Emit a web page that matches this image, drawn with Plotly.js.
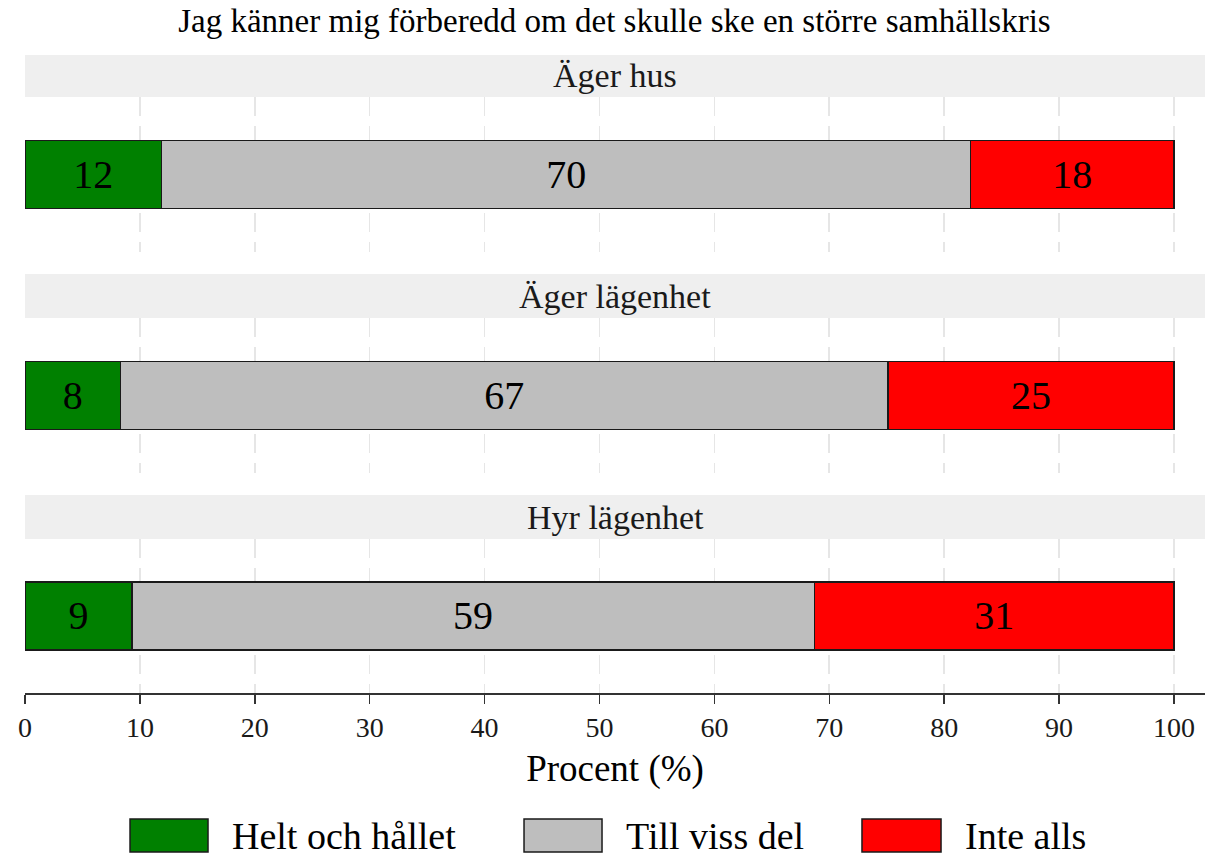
<!DOCTYPE html>
<html>
<head>
<meta charset="utf-8">
<script src="https://cdn.plot.ly/plotly-3.0.1.min.js"></script>
<style>html,body{margin:0;padding:0;background:#fff;}#chart{width:1206px;height:856px;}</style>
</head>
<body>
<div id="chart"></div>
<script>
// ---- data ----
const categories = ['Äger hus', 'Äger lägenhet', 'Hyr lägenhet'];
const seriesNames = ['Helt och hållet', 'Till viss del', 'Inte alls'];
const heltOchHallet = [11.9, 8.3, 9.3];
const tillVissDel = [70.4, 66.8, 59.4];
const inteAlls = [17.7, 24.9, 31.3];
const xTicks = [0, 10, 20, 30, 40, 50, 60, 70, 80, 90, 100];
const chartTitle = 'Jag känner mig förberedd om det skulle ske en större samhällskris';
const xTitle = 'Procent (%)';

// ---- styling ----
const FONT = 'Liberation Serif, Times New Roman, serif';
const colors = ['#008000', '#bebebe', '#ff0000'];
const seriesValues = [heltOchHallet, tillVissDel, inteAlls];

// panel layout (paper coords)
const panelDomains = [[0.6912, 0.9342], [0.3448, 0.5878], [0.0, 0.2414]];
const stripDomains = [[0.9342, 1.0], [0.5878, 0.6567], [0.2414, 0.3103]];
const yAxisIds = ['y', 'y2', 'y3'];
const xAxisIds = ['x3', 'x2', 'x'];

const traces = [];
categories.forEach((cat, ci) => {
  seriesNames.forEach((s, si) => {
    const v = seriesValues[si][ci];
    traces.push({
      type: 'bar',
      orientation: 'h',
      x: [v],
      y: [0],
      width: 0.5,
      name: s,
      xaxis: xAxisIds[ci],
      yaxis: yAxisIds[ci],
      marker: {color: colors[si], line: {color: '#1a1a1a', width: 1.5}},
      text: [String(Math.round(v))],
      textposition: 'inside',
      insidetextanchor: 'middle',
      constraintext: 'none',
      textfont: {family: FONT, size: 40, color: '#000'},
      showlegend: false,
      hoverinfo: 'skip'
    });
  });
});

const gridStyle = {
  showgrid: true, gridcolor: '#e6e6e6', gridwidth: 1.6, griddash: '19px,10px',
  zeroline: false, range: [0, 102.7], tickvals: xTicks, fixedrange: true
};
const yStyle = {range: [-0.57, 0.57], showgrid: false, zeroline: false, showticklabels: false, showline: false, ticks: '', fixedrange: true};

const shapes = [];
const annotations = [];
stripDomains.forEach((d, i) => {
  shapes.push({type: 'rect', xref: 'paper', yref: 'paper', x0: 0, x1: 1, y0: d[0], y1: d[1],
    fillcolor: '#efefef', line: {width: 0}, layer: 'below'});
  annotations.push({xref: 'paper', yref: 'paper', x: 0.5, y: (d[0] + d[1]) / 2,
    text: categories[i], showarrow: false, xanchor: 'center', yanchor: 'middle',
    font: {family: FONT, size: 34, color: '#1a1a1a'}});
});

// custom legend (large swatches)
const legSwatchX = [[0.0890, 0.1551], [0.4229, 0.4890], [0.7093, 0.7763]];
const legTextX = [0.1737, 0.5076, 0.7949];
seriesNames.forEach((s, i) => {
  shapes.push({type: 'rect', xref: 'paper', yref: 'paper', x0: legSwatchX[i][0], x1: legSwatchX[i][1],
    y0: -0.2492, y1: -0.1975, fillcolor: colors[i], line: {color: '#1a1a1a', width: 1.5}});
  annotations.push({xref: 'paper', yref: 'paper', x: legTextX[i], y: -0.2235, text: s,
    showarrow: false, xanchor: 'left', yanchor: 'middle',
    font: {family: FONT, size: 38, color: '#000'}});
});

const layout = {
  width: 1206, height: 856,
  margin: {l: 25, r: 1, t: 55, b: 163},
  paper_bgcolor: '#fff', plot_bgcolor: 'rgba(0,0,0,0)',
  barmode: 'stack', bargap: 0,
  showlegend: false,
  font: {family: FONT, color: '#000'},
  title: {text: chartTitle, x: 0.5095, xanchor: 'center', y: 0.9766, yanchor: 'middle', yref: 'container',
    font: {family: FONT, size: 33, color: '#000'}},
  xaxis: Object.assign({}, gridStyle, {
    anchor: 'y3', showline: true, linecolor: '#333', linewidth: 1.5,
    ticks: 'outside', ticklen: 9, tickwidth: 1.5, tickcolor: '#333',
    tickfont: {family: FONT, size: 28, color: '#1a1a1a'},
    title: {text: xTitle, standoff: 13, font: {family: FONT, size: 37, color: '#000'}}
  }),
  xaxis2: Object.assign({}, gridStyle, {anchor: 'y2', matches: 'x', showticklabels: false, ticks: '', showline: false}),
  xaxis3: Object.assign({}, gridStyle, {anchor: 'y', matches: 'x', showticklabels: false, ticks: '', showline: false}),
  yaxis: Object.assign({}, yStyle, {domain: panelDomains[0], anchor: 'x3'}),
  yaxis2: Object.assign({}, yStyle, {domain: panelDomains[1], anchor: 'x2'}),
  yaxis3: Object.assign({}, yStyle, {domain: panelDomains[2], anchor: 'x'}),
  shapes: shapes,
  annotations: annotations
};

Plotly.newPlot('chart', traces, layout, {displayModeBar: false, staticPlot: true});
</script>
</body>
</html>
